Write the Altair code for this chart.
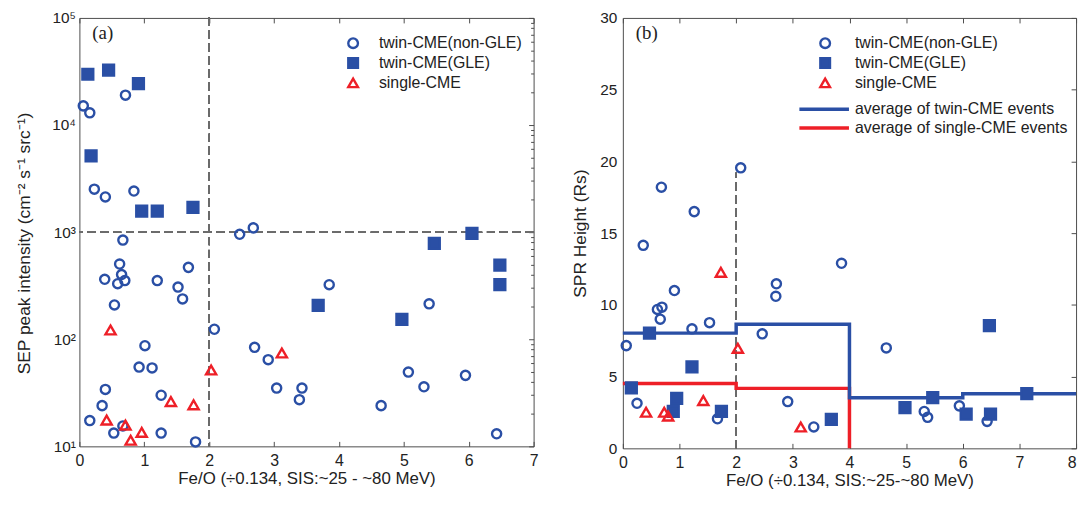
import altair as alt
import pandas as pd

TYPES = ["twin-CME(non-GLE)", "twin-CME(GLE)", "single-CME"]
AVG_TYPES = ["average of twin-CME events", "average of single-CME events"]

# ---------- panel (a): SEP peak intensity ----------
a_nongle_x = [0.06, 0.16, 0.71, 0.23, 0.40, 0.84, 0.67, 2.47, 2.68,
              0.62, 0.65, 0.39, 0.70, 0.59, 1.68, 1.20, 1.52, 1.59, 0.54,
              2.08, 1.01, 0.92, 1.12, 0.40, 0.35, 1.26, 0.16, 0.53, 0.67,
              1.26, 1.79, 2.70, 2.91, 3.04, 3.43, 3.39, 3.85, 5.39, 5.07,
              5.31, 5.95, 4.65, 6.43]
a_nongle_y = [15100, 13000, 19000, 2520, 2130, 2420, 843, 955, 1096,
              504, 402, 363, 353, 330, 469, 353, 307, 238, 209,
              124, 87, 55, 54, 34, 24, 30, 17.4, 13.3, 15.5,
              13.3, 11.0, 84, 64.5, 35, 35, 27.3, 323, 214, 49.4,
              36, 46, 24, 13.1]
a_gle_x = [0.13, 0.45, 0.91, 0.18, 0.96, 1.20, 1.75, 5.47, 6.05, 6.48, 6.48, 3.68, 4.97]
a_gle_y = [29800, 32500, 24300, 5160, 1570, 1570, 1700, 787, 973, 493, 323, 207, 153]
a_single_x = [0.48, 2.03, 1.41, 1.76, 0.42, 0.71, 0.96, 0.79, 3.12]
a_single_y = [122, 51.6, 26.2, 24.4, 17.6, 15.8, 13.5, 11.4, 74.5]

a_xticks = [0, 1, 2, 3, 4, 5, 6, 7]
a_yticks = [10, 100, 1000, 10000, 100000]
a_yminor = [m * d for d in [10, 100, 1000, 10000] for m in range(2, 10)]
a_vline = 2
a_hline = 1000

# ---------- panel (b): SPR height ----------
b_nongle_x = [2.08, 0.68, 1.26, 0.36, 2.71, 2.70, 0.91, 0.61, 0.69, 0.66, 1.22, 1.53,
              2.46, 0.06, 0.25, 2.91, 1.67, 3.37, 3.86, 4.65, 5.32, 5.38, 5.94, 6.43]
b_nongle_y = [19.55, 18.2, 16.5, 14.15, 11.47, 10.6, 11.0, 9.68, 9.84, 9.0, 8.33, 8.76,
              7.98, 7.16, 3.14, 3.26, 2.06, 1.49, 12.9, 7.0, 2.57, 2.16, 2.96, 1.88]
b_gle_x = [0.47, 1.22, 0.15, 0.95, 0.89, 1.74, 3.68, 6.47, 7.13, 5.47, 4.98, 6.06, 6.49]
b_gle_y = [8.03, 5.67, 4.22, 3.49, 2.57, 2.57, 2.02, 8.56, 3.81, 3.53, 2.84, 2.39, 2.39]
b_single_x = [1.73, 2.03, 1.42, 0.41, 0.73, 0.80, 3.14]
b_single_y = [12.27, 6.97, 3.33, 2.52, 2.52, 2.25, 1.49]

b_twin_avg_x = [0, 2, 4, 6, 8]
b_twin_avg_y = [8.03, 8.65, 3.53, 3.81, 3.81]
b_single_avg_x = [0, 2, 4]
b_single_avg_y = [4.52, 4.18, 0]

b_xticks = [0, 1, 2, 3, 4, 5, 6, 7, 8]
b_yticks = [0, 5, 10, 15, 20, 25, 30]
b_vline = 2
b_vline_top = 19.2

# ---------- style ----------
BLUE = "#2a4fa5"
RED = "#ee1f27"
FRAME = "#4d4d4d"
DASH = "#6b6b6b"
TXT = "#222222"
FONT = "Liberation Sans"
SERIF = "Liberation Serif"

W_A, H_A = 458, 432
W_B, H_B = 457, 434

XS_A = alt.Scale(domain=[0, 7], nice=False, zero=False)
YS_A = alt.Scale(type="log", domain=[10, 100000], nice=False)
XS_B = alt.Scale(domain=[0, 8], nice=False, zero=False)
YS_B = alt.Scale(domain=[0, 30], nice=False, zero=False)


def df_of(xs, ys, t):
    return pd.DataFrame({"x": xs, "y": ys, "type": [t] * len(xs)})


def tick_axis(orient, offset, values, size=5):
    return alt.Axis(orient=orient, offset=offset, values=values, labels=False,
                    domain=False, grid=False, ticks=True, tickSize=size,
                    tickColor=FRAME, tickWidth=1, title=None,
                    minExtent=0, maxExtent=0)


def x_label_axis(values, title, last=None):
    kw = dict(orient="bottom", values=values, ticks=False, domain=False,
              grid=False, labelPadding=6, labelFontSize=16, labelColor=TXT,
              labelFont=FONT, labelFlush=False, format="d",
              title=title, titleFontSize=17, titleFont=FONT,
              titleFontWeight="normal", titleColor=TXT, titlePadding=2)
    if last is not None:
        kw["labelAlign"] = {"condition": {"test": f"datum.value == {last}", "value": "right"},
                            "value": "center"}
    return alt.Axis(**kw)


def y_label_axis(values, title, title_pad, label_pad, label_expr=None,
                 title_x=None, title_y=None):
    kw = dict(orient="left", values=values, ticks=False, domain=False, grid=False,
              labelPadding=label_pad, labelFontSize=15.5, labelColor=TXT, labelFont=FONT,
              title=title, titleFontSize=17.5, titleFont=FONT,
              titleFontWeight="normal", titleColor=TXT, titlePadding=title_pad)
    if label_expr:
        kw["labelExpr"] = label_expr
    else:
        kw["format"] = "d"
    if title_x is not None:
        kw["titleX"] = title_x
    if title_y is not None:
        kw["titleY"] = title_y
    return alt.Axis(**kw)


def sym_legend(x, y, offset):
    return alt.Legend(orient="none", legendX=x, legendY=y, title=None, padding=0,
                      rowPadding=0, labelOffset=offset, labelFontSize=16, labelFont=FONT,
                      labelColor=TXT, labelLimit=400, symbolSize=95, symbolStrokeWidth=2.4,
                      symbolOpacity=1)


def scatter_layers(groups, xs, ys, legend):
    shape_s = alt.Scale(domain=TYPES, range=["circle", "square", "triangle-up"])
    stroke_s = alt.Scale(domain=TYPES, range=[BLUE, BLUE, RED])
    fill_s = alt.Scale(domain=TYPES, range=["transparent", BLUE, "transparent"])
    sizes = {TYPES[0]: 85, TYPES[1]: 120, TYPES[2]: 105}
    out = []
    for df in groups:
        t = df["type"].iloc[0]
        out.append(
            alt.Chart(df).mark_point(filled=True, opacity=1, strokeWidth=2.4,
                                     size=sizes[t]).encode(
                x=alt.X("x:Q", scale=xs, axis=None),
                y=alt.Y("y:Q", scale=ys, axis=None),
                shape=alt.Shape("type:N", scale=shape_s, legend=legend),
                stroke=alt.Stroke("type:N", scale=stroke_s, legend=legend),
                fill=alt.Fill("type:N", scale=fill_s, legend=legend),
            )
        )
    return out


def invisible(df, xs, ys, xaxis, yaxis):
    return alt.Chart(df).mark_point(opacity=0).encode(
        x=alt.X("x:Q", scale=xs, axis=xaxis),
        y=alt.Y("y:Q", scale=ys, axis=yaxis),
    )


def panel_label(text):
    return alt.Chart(pd.DataFrame({"t": [text]})).mark_text(
        font=SERIF, fontSize=19, align="left", baseline="middle", color=TXT
    ).encode(text="t:N", x=alt.value(13), y=alt.value(15))


# ---------- panel (a) ----------
ga = [df_of(a_nongle_x, a_nongle_y, TYPES[0]),
      df_of(a_gle_x, a_gle_y, TYPES[1]),
      df_of(a_single_x, a_single_y, TYPES[2])]
all_a = pd.concat(ga, ignore_index=True)

log_expr = ("datum.value == 10 ? '10\u00b9' : datum.value == 100 ? '10\u00b2' : "
            "datum.value == 1000 ? '10\u00b3' : datum.value == 10000 ? '10\u2074' : '10\u2075'")

a_layers = [
    alt.Chart(all_a).mark_rule(color=DASH, strokeDash=[8, 5], strokeWidth=1).encode(
        x=alt.XDatum(datum=a_vline, scale=XS_A, axis=None)),
    alt.Chart(all_a).mark_rule(color=DASH, strokeDash=[8, 5], strokeWidth=1).encode(
        y=alt.YDatum(datum=a_hline, scale=YS_A, axis=None)),
]
a_layers += scatter_layers(ga, XS_A, YS_A, sym_legend(268, 17.5, 18))
a_layers += [
    panel_label("(a)"),
    invisible(all_a, XS_A, YS_A,
              x_label_axis(a_xticks, "Fe/O (\u00f70.134, SIS:~25 - ~80 MeV)"),
              y_label_axis(a_yticks, "SEP peak intensity (cm\u207b\u00b2 s\u207b\u00b9 src\u207b\u00b9)",
                           16, 4, label_expr=log_expr, title_x=-46, title_y=227)),
    invisible(all_a, XS_A, YS_A, tick_axis("top", -H_A, a_xticks),
              tick_axis("left", -W_A, a_yticks, 5)),
    invisible(all_a, XS_A, YS_A, tick_axis("bottom", -H_A, a_xticks),
              tick_axis("left", -W_A, a_yminor, 3)),
]
panel_a = alt.layer(*a_layers).properties(width=W_A, height=H_A).resolve_axis(
    x="independent", y="independent")

# ---------- panel (b) ----------
gb = [df_of(b_nongle_x, b_nongle_y, TYPES[0]),
      df_of(b_gle_x, b_gle_y, TYPES[1]),
      df_of(b_single_x, b_single_y, TYPES[2])]
all_b = pd.concat(gb, ignore_index=True)

twin_avg = pd.DataFrame({"x": b_twin_avg_x, "y": b_twin_avg_y, "avg": AVG_TYPES[0]})
single_avg = pd.DataFrame({"x": b_single_avg_x, "y": b_single_avg_y, "avg": AVG_TYPES[1]})

avg_scale = alt.Scale(domain=AVG_TYPES, range=[BLUE, RED])
line_legend = alt.Legend(orient="none", legendX=195, legendY=84, title=None, padding=0,
                         rowPadding=3, labelOffset=23, labelFontSize=16, labelFont=FONT,
                         labelColor=TXT, labelLimit=400, symbolType="M-5,0L5,0",
                         symbolSize=100, symbolStrokeWidth=3.5)


def avg_line(df):
    return alt.Chart(df).mark_line(interpolate="step-after", strokeWidth=3.5).encode(
        x=alt.X("x:Q", scale=XS_B, axis=None),
        y=alt.Y("y:Q", scale=YS_B, axis=None),
        color=alt.Color("avg:N", scale=avg_scale, legend=line_legend),
    )


b_layers = [
    alt.Chart(all_b).mark_rule(color=DASH, strokeDash=[8, 5], strokeWidth=1).encode(
        x=alt.XDatum(datum=b_vline, scale=XS_B, axis=None),
        y=alt.YDatum(datum=0, scale=YS_B, axis=None),
        y2=alt.Y2Datum(datum=b_vline_top)),
    avg_line(single_avg),
    avg_line(twin_avg),
]
b_layers += scatter_layers(gb, XS_B, YS_B, sym_legend(196, 17.5, 22))
b_layers += [
    panel_label("(b)"),
    invisible(all_b, XS_B, YS_B,
              x_label_axis(b_xticks, "Fe/O (\u00f70.134, SIS:~25-~80 MeV)", last=8),
              y_label_axis(b_yticks, "SPR Height (Rs)", 10, 6)),
    invisible(all_b, XS_B, YS_B, tick_axis("top", -H_B, b_xticks),
              tick_axis("left", -W_B, b_yticks, 5)),
    invisible(all_b, XS_B, YS_B, tick_axis("bottom", -H_B, b_xticks), None),
]
panel_b = alt.layer(*b_layers).properties(width=W_B, height=H_B).resolve_axis(
    x="independent", y="independent")

chart = alt.hconcat(panel_a, panel_b, spacing=33).resolve_scale(
    shape="independent", stroke="independent", fill="independent", color="independent"
).properties(
    padding={"left": 7, "top": 0, "right": 0, "bottom": 0}
).configure_view(stroke=FRAME, strokeWidth=1)

chart.save("out.html", embed_options={"renderer": "svg", "actions": False})
